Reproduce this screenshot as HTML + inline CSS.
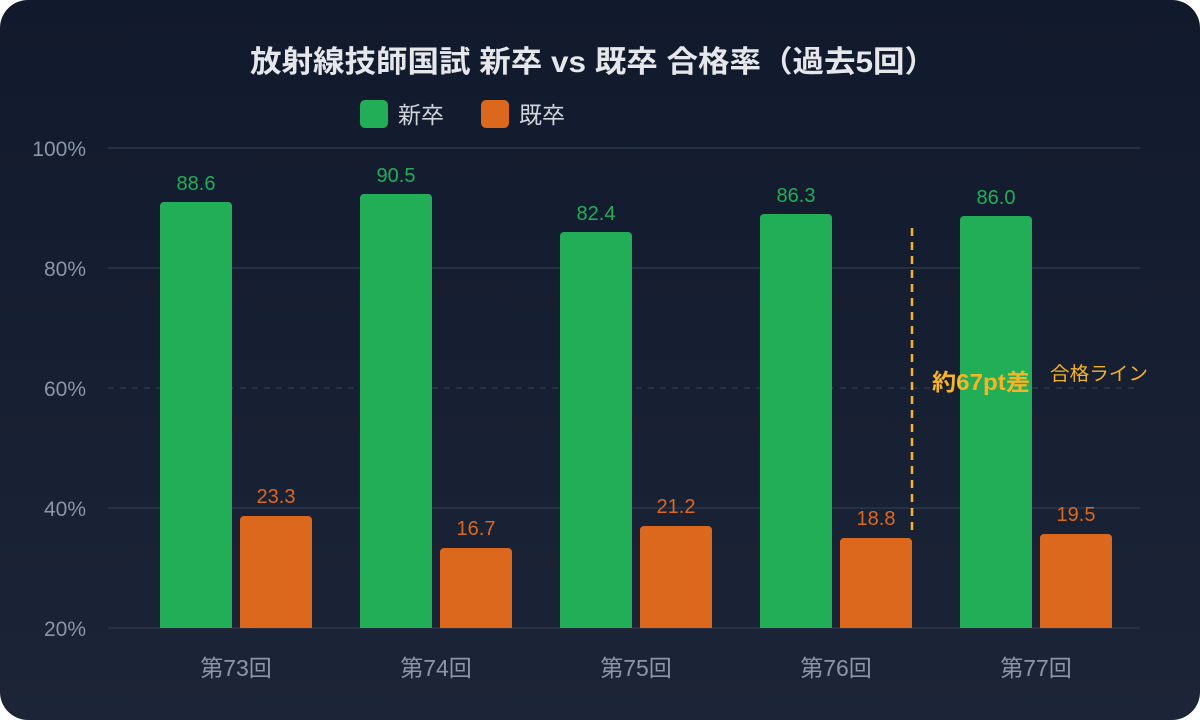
<!DOCTYPE html><html><head><meta charset="utf-8"><style>
html,body{margin:0;padding:0;background:#fff;width:1200px;height:720px;overflow:hidden}
svg{display:block}
text{font-family:"Liberation Sans","Noto Sans CJK JP",sans-serif}
</style></head><body>
<svg width="1200" height="720" viewBox="0 0 1200 720">
<defs><linearGradient id="bg" x1="0" y1="0" x2="0" y2="1"><stop offset="0" stop-color="#111a2c"/><stop offset="1" stop-color="#1c2437"/></linearGradient></defs>
<rect x="0" y="0" width="1200" height="720" rx="28" fill="url(#bg)"/>
<text x="250" y="72" font-size="30" font-weight="bold" fill="#e5e7eb" textLength="686" lengthAdjust="spacingAndGlyphs">放射線技師国試 新卒 vs 既卒 合格率（過去5回）</text>
<rect x="360" y="100" width="28" height="28" rx="5" fill="#22ae57"/>
<text x="398" y="123" font-size="23" fill="#d1d5db">新卒</text>
<rect x="481" y="100" width="28" height="28" rx="5" fill="#dc681e"/>
<text x="519" y="123" font-size="23" fill="#d1d5db">既卒</text>
<g stroke="#2d3648" stroke-width="1.5">
<line x1="108" y1="148" x2="1140" y2="148"/><line x1="108" y1="268" x2="1140" y2="268"/>
<line x1="108" y1="508" x2="1140" y2="508"/><line x1="108" y1="628" x2="1140" y2="628"/>
<line x1="108" y1="388" x2="1140" y2="388" stroke-dasharray="6 6"/>
</g>
<g font-size="21" fill="#8c96a8" text-anchor="end">
<text x="86" y="156">100%</text><text x="86" y="276">80%</text><text x="86" y="396">60%</text><text x="86" y="516">40%</text><text x="86" y="636">20%</text>
</g>
<g fill="#22ae57">
<path d="M160 628V206a4 4 0 0 1 4-4h64a4 4 0 0 1 4 4V628z"/>
<path d="M360 628V198a4 4 0 0 1 4-4h64a4 4 0 0 1 4 4V628z"/>
<path d="M560 628V236a4 4 0 0 1 4-4h64a4 4 0 0 1 4 4V628z"/>
<path d="M760 628V218a4 4 0 0 1 4-4h64a4 4 0 0 1 4 4V628z"/>
<path d="M960 628V220a4 4 0 0 1 4-4h64a4 4 0 0 1 4 4V628z"/>
</g>
<g fill="#dc681e">
<path d="M240 628V520a4 4 0 0 1 4-4h64a4 4 0 0 1 4 4V628z"/>
<path d="M440 628V552a4 4 0 0 1 4-4h64a4 4 0 0 1 4 4V628z"/>
<path d="M640 628V530a4 4 0 0 1 4-4h64a4 4 0 0 1 4 4V628z"/>
<path d="M840 628V542a4 4 0 0 1 4-4h64a4 4 0 0 1 4 4V628z"/>
<path d="M1040 628V538a4 4 0 0 1 4-4h64a4 4 0 0 1 4 4V628z"/>
</g>
<g font-size="20" fill="#22ae57" text-anchor="middle">
<text x="196" y="190">88.6</text><text x="396" y="182">90.5</text><text x="596" y="220">82.4</text><text x="796" y="202">86.3</text><text x="996" y="204">86.0</text>
</g>
<g font-size="20" fill="#dc681e" text-anchor="middle">
<text x="276" y="503">23.3</text><text x="476" y="535">16.7</text><text x="676" y="513">21.2</text><text x="876" y="525">18.8</text><text x="1076" y="521">19.5</text>
</g>
<line x1="912" y1="228" x2="912" y2="530" stroke="#f6b426" stroke-width="2.5" stroke-dasharray="8 6"/>
<text x="932" y="390" font-size="23" font-weight="bold" fill="#f6b426" textLength="98" lengthAdjust="spacingAndGlyphs">約67pt差</text>
<text x="1050" y="380" font-size="19" fill="#f6b426" textLength="98" lengthAdjust="spacingAndGlyphs">合格ライン</text>
<g font-size="23" fill="#8c96a8" text-anchor="middle">
<text x="236" y="676">第73回</text><text x="436" y="676">第74回</text><text x="636" y="676">第75回</text><text x="836" y="676">第76回</text><text x="1036" y="676">第77回</text>
</g>
</svg>
</body></html>
